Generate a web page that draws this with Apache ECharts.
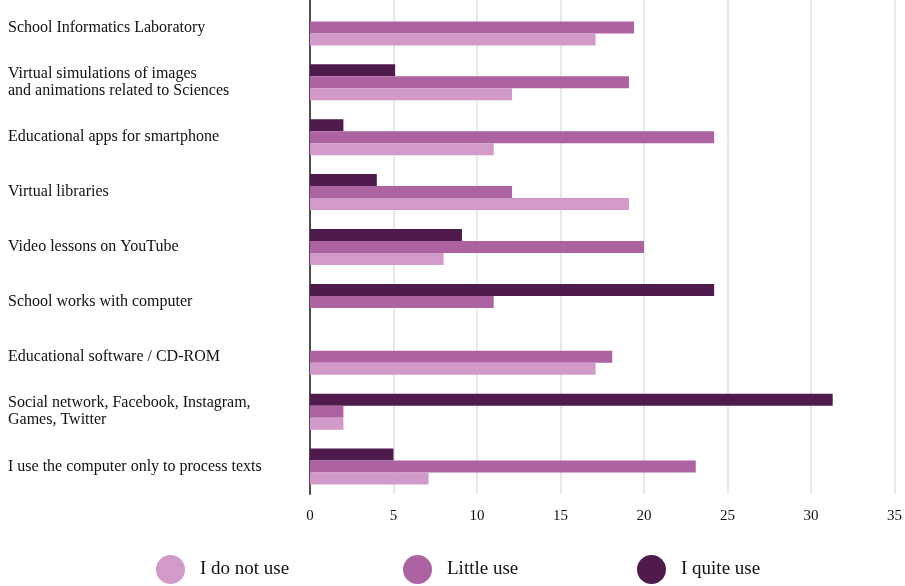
<!DOCTYPE html>
<html>
<head>
<meta charset="utf-8">
<script src="https://cdn.jsdelivr.net/npm/echarts@6/dist/echarts.min.js"></script>
<style>
html,body{margin:0;padding:0;background:#fff;}
#chart{width:905px;height:586px;}
</style>
</head>
<body>
<div id="chart"></div>
<script>
var categories = [
  "School Informatics Laboratory",
  "Virtual simulations of images\nand animations related to Sciences",
  "Educational apps for smartphone",
  "Virtual libraries",
  "Video lessons on YouTube",
  "School works with computer",
  "Educational software / CD-ROM",
  "Social network, Facebook, Instagram,\nGames, Twitter",
  "I use the computer only to process texts"
];
var seriesNames = ["I do not use", "Little use", "I quite use"];
var doNotUse = [17.1, 12.1, 11.0, 19.1, 8.0, 0, 17.1, 2.0, 7.1];
var littleUse = [19.4, 19.1, 24.2, 12.1, 20.0, 11.0, 18.1, 2.0, 23.1];
var quiteUse = [0, 5.1, 2.0, 4.0, 9.1, 24.2, 0, 31.3, 5.0];
var xTicks = [0, 5, 10, 15, 20, 25, 30, 35];
var colors = ["#d29ac8", "#ad63a2", "#4f1b4c"];

var font = "Liberation Serif";
var chart = echarts.init(document.getElementById('chart'), null, {renderer: 'canvas'});
function mk(name, data, color) {
  return {
    name: name, type: 'bar', data: data, barWidth: 12, barGap: '0%',
    itemStyle: {color: color}, animation: false
  };
}
var legendLefts = [151, 398, 632];
var legends = seriesNames.map(function (n, i) {
  return {
    left: legendLefts[i], top: 550, icon: 'circle', itemWidth: 29, itemHeight: 29,
    data: [n],
    textStyle: {fontFamily: font, fontSize: 19, color: '#111', padding: [0, 0, 0, 10]}
  };
});
chart.setOption({
  animation: false,
  color: colors,
  grid: {left: 310, right: 8, top: 0, bottom: 92, containLabel: false},
  legend: legends,
  xAxis: {
    type: 'value', min: xTicks[0], max: xTicks[xTicks.length - 1], interval: 5,
    axisLine: {show: false}, axisTick: {show: false},
    splitLine: {show: true, lineStyle: {color: '#e0e0e0', width: 1.5}},
    axisLabel: {fontFamily: font, fontSize: 15, color: '#111', margin: 15}
  },
  yAxis: {
    type: 'category', data: categories, inverse: true,
    axisLine: {show: true, lineStyle: {color: '#4d4d4d', width: 2}},
    axisTick: {show: false},
    axisLabel: {fontFamily: font, fontSize: 16, color: '#111', align: 'left', margin: 302, lineHeight: 17}
  },
  series: [
    mk(seriesNames[2], quiteUse, colors[2]),
    mk(seriesNames[1], littleUse, colors[1]),
    mk(seriesNames[0], doNotUse, colors[0])
  ]
});
</script>
</body>
</html>
